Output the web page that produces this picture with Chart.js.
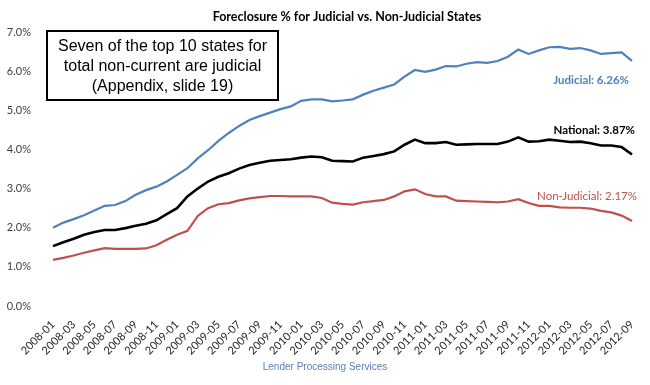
<!DOCTYPE html>
<html>
<head>
<meta charset="utf-8">
<script src="https://cdn.jsdelivr.net/npm/chart.js@4.4.1/dist/chart.umd.min.js"></script>
<style>
  html, body { margin: 0; padding: 0; background: #ffffff; }
  #wrap { position: relative; width: 650px; height: 385px; }
  canvas { display: block; }
</style>
</head>
<body>
<div id="wrap"><canvas id="c" width="650" height="385"></canvas></div>
<script>
// ---- data ----
const months = [
  '2008-01','2008-02','2008-03','2008-04','2008-05','2008-06','2008-07','2008-08','2008-09','2008-10','2008-11','2008-12',
  '2009-01','2009-02','2009-03','2009-04','2009-05','2009-06','2009-07','2009-08','2009-09','2009-10','2009-11','2009-12',
  '2010-01','2010-02','2010-03','2010-04','2010-05','2010-06','2010-07','2010-08','2010-09','2010-10','2010-11','2010-12',
  '2011-01','2011-02','2011-03','2011-04','2011-05','2011-06','2011-07','2011-08','2011-09','2011-10','2011-11','2011-12',
  '2012-01','2012-02','2012-03','2012-04','2012-05','2012-06','2012-07','2012-08','2012-09'
];
const judicial = [
  2.00,2.13,2.22,2.32,2.44,2.56,2.58,2.68,2.84,2.96,3.05,3.18,
  3.35,3.52,3.77,3.98,4.22,4.42,4.60,4.75,4.85,4.94,5.03,5.10,
  5.24,5.28,5.28,5.23,5.25,5.28,5.40,5.50,5.58,5.66,5.86,6.03,
  5.98,6.04,6.13,6.12,6.19,6.23,6.21,6.26,6.37,6.55,6.44,6.53,
  6.61,6.62,6.57,6.59,6.53,6.44,6.46,6.48,6.26
];
const national = [
  1.53,1.63,1.72,1.82,1.89,1.94,1.94,1.99,2.05,2.10,2.19,2.35,
  2.50,2.80,3.00,3.18,3.30,3.39,3.51,3.60,3.66,3.71,3.73,3.75,
  3.79,3.82,3.80,3.71,3.70,3.69,3.79,3.83,3.88,3.95,4.12,4.25,
  4.16,4.16,4.19,4.12,4.13,4.14,4.14,4.14,4.20,4.31,4.20,4.21,
  4.25,4.22,4.19,4.20,4.16,4.10,4.10,4.06,3.87
];
const nonJudicial = [
  1.18,1.23,1.29,1.36,1.42,1.48,1.46,1.46,1.46,1.47,1.55,1.69,
  1.82,1.92,2.30,2.50,2.60,2.63,2.70,2.75,2.78,2.81,2.81,2.80,
  2.80,2.80,2.76,2.64,2.61,2.59,2.65,2.68,2.71,2.80,2.93,2.98,
  2.86,2.80,2.80,2.69,2.68,2.67,2.66,2.65,2.67,2.73,2.63,2.56,
  2.56,2.52,2.51,2.51,2.49,2.43,2.39,2.31,2.17
];
const yTicks = [0,1,2,3,4,5,6,7];
const titleText = 'Foreclosure % for Judicial vs. Non-Judicial States';
const boxLines = ['Seven of the top 10 states for', 'total non-current are judicial', '(Appendix, slide 19)'];
const sourceText = 'Lender Processing Services';
const endLabels = [
  { text: 'Judicial: 6.26%', series: 0 },
  { text: 'National: 3.87%', series: 1 },
  { text: 'Non-Judicial: 2.17%', series: 2 }
];

const BLUE = '#4F81BD', RED = '#C0504D', BLACK = '#000000';

const textPlugin = {
  id: 'texts',
  afterDraw(chart) {
    const ctx = chart.ctx;
    const xs = chart.scales.x, ys = chart.scales.y;
    ctx.save();
    // title
    ctx.fillStyle = '#000';
    ctx.font = 'bold 12.5px Lato, "Open Sans", sans-serif';
    ctx.textAlign = 'center';
    ctx.textBaseline = 'middle';
    ctx.fillText(titleText, 347, 17);
    // note box
    ctx.fillStyle = '#fff';
    ctx.fillRect(47, 31, 231, 69);
    ctx.strokeStyle = '#000';
    ctx.lineWidth = 2;
    ctx.strokeRect(47, 31, 231, 69);
    ctx.fillStyle = '#000';
    ctx.font = '16px "Liberation Sans", Arial, sans-serif';
    boxLines.forEach((t, i) => ctx.fillText(t, 162.5, 47 + i * 20));
    // source
    ctx.fillStyle = '#5B7DB8';
    ctx.font = '10px "Liberation Sans", Arial, sans-serif';
    ctx.fillText(sourceText, 325, 367);
    // end labels
    const last = months.length - 1;
    const px = xs.getPixelForValue(last);
    const conf = [
      { color: BLUE, dx: -3, dy: 19.5, bold: true },
      { color: BLACK, dx: 3, dy: -24.5, bold: true },
      { color: RED, dx: 5, dy: -25, bold: false }
    ];
    endLabels.forEach((l) => {
      const c = conf[l.series];
      const data = chart.data.datasets[l.series].data;
      const py = ys.getPixelForValue(data[last]);
      ctx.fillStyle = c.color;
      ctx.font = (c.bold ? 'bold ' : '') + '11.5px Lato, sans-serif';
      ctx.textAlign = 'right';
      ctx.fillText(l.text, px + c.dx, py + c.dy);
    });
    ctx.restore();
  }
};

new Chart(document.getElementById('c'), {
  type: 'line',
  data: {
    labels: months,
    datasets: [
      { label: 'Judicial', data: judicial, borderColor: BLUE, borderWidth: 2.2, pointRadius: 0, tension: 0, fill: false },
      { label: 'National', data: national, borderColor: BLACK, borderWidth: 2.6, pointRadius: 0, tension: 0, fill: false },
      { label: 'Non-Judicial', data: nonJudicial, borderColor: RED, borderWidth: 2.2, pointRadius: 0, tension: 0, fill: false }
    ]
  },
  options: {
    responsive: false,
    animation: false,
    devicePixelRatio: 1,
    layout: { padding: { top: 32, right: 18, left: 0, bottom: 0 } },
    plugins: { legend: { display: false }, title: { display: false }, tooltip: { enabled: false } },
    scales: {
      x: {
        offset: false,
        grid: { display: false },
        border: { display: false },
        afterFit: (s) => { s.height = 79; },
        ticks: {
          autoSkip: false,
          minRotation: 45,
          maxRotation: 45,
          padding: 4,
          color: '#262626',
          font: { family: 'Lato', size: 11 },
          callback: function (v, i) { return i % 2 === 0 ? months[i] : ''; }
        }
      },
      y: {
        min: 0,
        max: 7,
        grid: { display: false },
        border: { display: false },
        afterFit: (s) => { s.width = 53; },
        afterBuildTicks: (s) => { s.ticks = yTicks.map(v => ({ value: v })); },
        ticks: {
          padding: 14,
          color: '#404040',
          font: { family: 'Lato', size: 11 },
          callback: (v) => v.toFixed(1) + '%'
        }
      }
    }
  },
  plugins: [textPlugin]
});
</script>
</body>
</html>
